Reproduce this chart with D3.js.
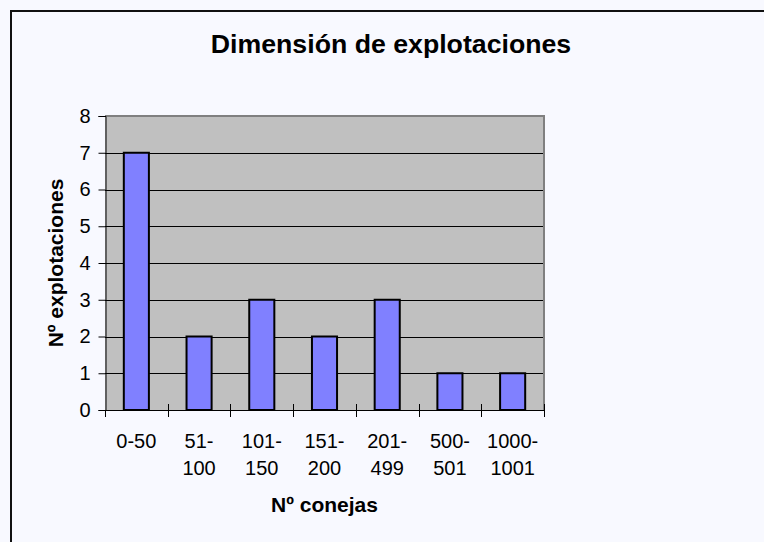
<!DOCTYPE html>
<html>
<head>
<meta charset="utf-8">
<script src="https://cdn.jsdelivr.net/npm/d3@7"></script>
<style>
  html, body { margin: 0; padding: 0; background: #F8F9FF; }
  svg { display: block; }
  text { font-family: "Liberation Sans", Arial, sans-serif; fill: #000; }
</style>
</head>
<body>
<svg id="chart" width="764" height="542"></svg>
<script>
const categories = ["0-50", "51-100", "101-150", "151-200", "201-499", "500-501", "1000-1001"];
const tickLines = [["0-50"], ["51-", "100"], ["101-", "150"], ["151-", "200"], ["201-", "499"], ["500-", "501"], ["1000-", "1001"]];
const values = [7, 2, 3, 2, 3, 1, 1];
const yTicks = [0, 1, 2, 3, 4, 5, 6, 7, 8];
const titleText = "Dimensión de explotaciones";
const xTitle = "Nº conejas";
const yTitle = "Nº explotaciones";

const svg = d3.select("#chart");
const W = 764, H = 542;
const plot = { left: 105, right: 544, top: 116, bottom: 410 };

svg.append("rect").attr("width", W).attr("height", H).attr("fill", "#F8F9FF");
// outer chart border (extends beyond the viewport on right/bottom)
svg.append("rect").attr("x", 11).attr("y", 11).attr("width", 800).attr("height", 600)
  .attr("fill", "none").attr("stroke", "#111").attr("stroke-width", 2);

const x = d3.scaleBand().domain(categories).range([plot.left, plot.right])
  .paddingInner(0.6).paddingOuter(0.3);
const xEdge = d3.scaleLinear().domain([0, categories.length]).range([plot.left, plot.right]);
const y = d3.scaleLinear().domain([0, 8]).range([plot.bottom, plot.top]);

// plot background
svg.append("rect").attr("x", plot.left).attr("y", plot.top)
  .attr("width", plot.right - plot.left).attr("height", plot.bottom - plot.top)
  .attr("fill", "#C0C0C0");

// gridlines
svg.append("g").selectAll("line").data(yTicks.filter(d => d > 0 && d < 8)).join("line")
  .attr("x1", plot.left).attr("x2", plot.right)
  .attr("y1", d => Math.round(y(d)) + 0.5).attr("y2", d => Math.round(y(d)) + 0.5)
  .attr("stroke", "#000").attr("stroke-width", 1);

// plot border top/right gray
svg.append("path")
  .attr("d", `M${plot.left},${plot.top} H${plot.right} V${plot.bottom}`)
  .attr("fill", "none").attr("stroke", "#808080").attr("stroke-width", 2);

// bars
svg.append("g").selectAll("rect").data(values).join("rect")
  .attr("x", (d, i) => x(categories[i]))
  .attr("y", d => y(d))
  .attr("width", x.bandwidth())
  .attr("height", d => y(0) - y(d))
  .attr("fill", "#8080FF").attr("stroke", "#000").attr("stroke-width", 2);

// y axis
const yAxis = d3.axisLeft(y).tickValues(yTicks).tickSize(7).tickPadding(8).tickFormat(d3.format("d"));
const gy = svg.append("g").attr("transform", `translate(${plot.left + 0.5},0)`).call(yAxis);
gy.select(".domain").attr("stroke", "#000");
gy.selectAll(".tick line").attr("stroke", "#000");
gy.selectAll(".tick text").style("font-size", "20px").attr("font-family", null);

// x axis line
svg.append("line").attr("x1", plot.left).attr("x2", plot.right)
  .attr("y1", plot.bottom + 0.5).attr("y2", plot.bottom + 0.5).attr("stroke", "#000");
// x ticks (cross)
svg.append("g").selectAll("line").data(d3.range(categories.length + 1)).join("line")
  .attr("x1", d => Math.round(xEdge(d)) + 0.5).attr("x2", d => Math.round(xEdge(d)) + 0.5)
  .attr("y1", d => (d === 0 ? plot.bottom : plot.bottom - 6)).attr("y2", plot.bottom + 7)
  .attr("stroke", "#000");

// x tick labels
const xl = svg.append("g").selectAll("text").data(tickLines).join("text")
  .attr("x", (d, i) => x(categories[i]) + x.bandwidth() / 2)
  .attr("y", 448)
  .attr("text-anchor", "middle")
  .style("font-size", "20px");
xl.selectAll("tspan").data(d => d).join("tspan")
  .attr("x", function () { return this.parentNode.getAttribute("x"); })
  .attr("dy", (d, j) => (j === 0 ? 0 : 27))
  .text(d => d);

// titles
svg.append("text").attr("x", 391).attr("y", 53).attr("text-anchor", "middle")
  .style("font-size", "26.7px").style("font-weight", "bold").text(titleText);
svg.append("text").attr("x", (plot.left + plot.right) / 2).attr("y", 512).attr("text-anchor", "middle")
  .style("font-size", "21px").style("font-weight", "bold").text(xTitle);
svg.append("text").attr("transform", `translate(63,${(plot.top + plot.bottom) / 2}) rotate(-90)`)
  .attr("text-anchor", "middle")
  .style("font-size", "21px").style("font-weight", "bold").text(yTitle);
</script>
</body>
</html>
